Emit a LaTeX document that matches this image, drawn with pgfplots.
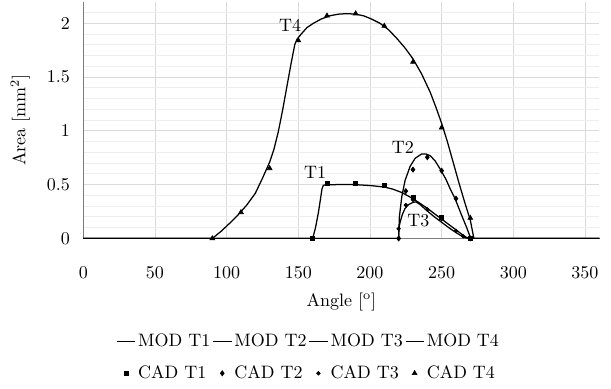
\documentclass[border=0pt]{standalone}
\usepackage{fontspec}
\usepackage{pgfplots}
\pgfplotsset{compat=1.18}
\definecolor{gridmaj}{RGB}{218,218,218}
\definecolor{gridmin}{RGB}{238,238,238}
\definecolor{axgray}{RGB}{125,125,125}
\begin{document}
\begin{tikzpicture}
\begin{axis}[
  name=ax,
  scale only axis, width=286.7pt, height=131.5pt,
  xmin=0, xmax=360, ymin=0, ymax=2.2,
  xtick={0,50,...,350}, ytick={0,0.5,1,1.5,2},
  minor ytick={0.1,0.2,0.3,0.4,0.6,0.7,0.8,0.9,1.1,1.2,1.3,1.4,1.6,1.7,1.8,1.9,2.1},
  xmajorgrids, ymajorgrids, yminorgrids,
  major grid style={draw=gridmaj, line width=0.5pt},
  minor grid style={draw=gridmin, line width=0.5pt},
  axis x line*=bottom, axis y line*=left,
  axis line style={-, draw=axgray, line width=0.6pt},
  major tick length=0pt, minor tick length=0pt,
  xticklabel style={yshift=-12pt},
  yticklabel style={xshift=-4pt},
  xlabel={Angle [\textsuperscript{o}]},
  ylabel={Area [mm$^2$]},
  xlabel style={at={(axis description cs:0.5,-0.268)}, anchor=center},
  ylabel style={at={(axis description cs:-0.122,0.5)}, anchor=center},
  legend columns=4,
  legend cell align=left,
  legend style={at={(axis description cs:0.437,-0.398)}, anchor=north,
    draw=none, fill=none, inner sep=0pt, row sep=8pt,
    nodes={inner xsep=1.2pt, inner ysep=0.5pt, text depth=0.15em},
    /tikz/every even column/.append style={column sep=0pt}},
  modline/.style={black, line width=0.7pt,
    legend image code/.code={\draw[##1] (0pt,0pt) -- (10.2pt,0pt);}},
  cad/.style={black, only marks, mark size=1.2pt,
    legend image code/.code={\path (0pt,0pt) (10.2pt,0pt); \draw[##1] plot coordinates {(5pt,0pt)};}},
]
% MOD T1
\addplot[modline] coordinates {
(0,0)(160,0)(162,0.1)(164,0.24)(165.5,0.37)(166.5,0.46)(167.5,0.495)(170,0.498)
(180,0.502)(190,0.5)(200,0.492)(210,0.478)(216,0.458)(222,0.428)(228,0.385)
(234,0.335)(240,0.28)(245,0.23)(250,0.18)(255,0.13)(260,0.08)(264,0.04)(267,0.012)(270,0)(360,0)};
\addlegendentry{MOD T1}
% MOD T2
\addplot[modline] coordinates {
(0,0)(220,0)(220.5,0.2)(222.2,0.39)(224.5,0.54)(228,0.67)(231.5,0.745)(236,0.785)
(239,0.785)(242,0.77)(245.5,0.72)(249,0.645)(253,0.55)(256,0.46)(259.4,0.37)
(263.5,0.23)(267.5,0.10)(270.3,0)(360,0)};
\addlegendentry{MOD T2}
% MOD T3
\addplot[modline] coordinates {
(0,0)(220,0)(220.2,0.1)(221,0.15)(222.5,0.22)(224.5,0.28)(227,0.315)(230,0.335)
(232,0.34)(235,0.315)(240,0.255)(245,0.2)(250,0.15)(255,0.1)(260,0.055)(264,0.022)
(267,0.005)(269,0)(360,0)};
\addlegendentry{MOD T3}
% MOD T4
\addplot[modline] coordinates {
(0,0)(90,0)(96,0.065)(102,0.14)(108,0.22)(114,0.31)(120,0.42)(125,0.56)(130,0.71)
(133,0.83)(136,0.99)(139,1.19)(142,1.41)(145,1.63)(147.5,1.80)(149,1.85)
(152,1.90)(156,1.96)(160.5,2.00)(166,2.04)(172,2.07)(178,2.085)(184,2.09)
(190,2.085)(195.5,2.07)(201,2.04)(207,2.0)(213,1.94)(218.7,1.86)(224.5,1.77)
(230,1.67)(236,1.53)(242,1.36)(246,1.22)(250,1.07)(254,0.9)(258,0.71)(262,0.52)
(266,0.34)(270,0.17)(272.5,0)(360,0)};
\addlegendentry{MOD T4}
% CAD
\addplot[cad, mark=square*, mark size=1.1pt] coordinates {
(160,0)(170,0.51)(190,0.51)(210,0.49)(230,0.38)(250,0.2)(270,0)};
\addlegendentry{CAD T1}
\addplot[cad, mark=diamond*, mark size=1.4pt] coordinates {
(220,0)(225,0.44)(230,0.64)(240,0.755)(250,0.63)(260,0.37)(270,0)};
\addlegendentry{CAD T2}
\addplot[cad, mark=*, mark size=1.0pt] coordinates {
(220,0.09)(225,0.31)(230,0.36)(240,0.27)(250,0.18)(260,0.07)(265,0.02)(270,0)};
\addlegendentry{CAD T3}
\addplot[cad, mark=triangle*, mark size=1.5pt] coordinates {
(90,0)(110,0.243)(130,0.652)(150,1.84)(170,2.07)(190,2.09)(210,1.975)(230,1.64)(250,1.03)(270,0.19)};
\addlegendentry{CAD T4}
\node at (axis cs:144.2,1.98) {T4};
\node at (axis cs:161.7,0.61) {T1};
\node at (axis cs:223,0.85) {T2};
\node at (axis cs:233.8,0.17) {T3};
\end{axis}
\pgfresetboundingbox
\path[use as bounding box] ([xshift=-46.3pt,yshift=-83.1pt]ax.south west) rectangle ([xshift=6.5pt,yshift=1pt]ax.north east);
\end{tikzpicture}
\end{document}
